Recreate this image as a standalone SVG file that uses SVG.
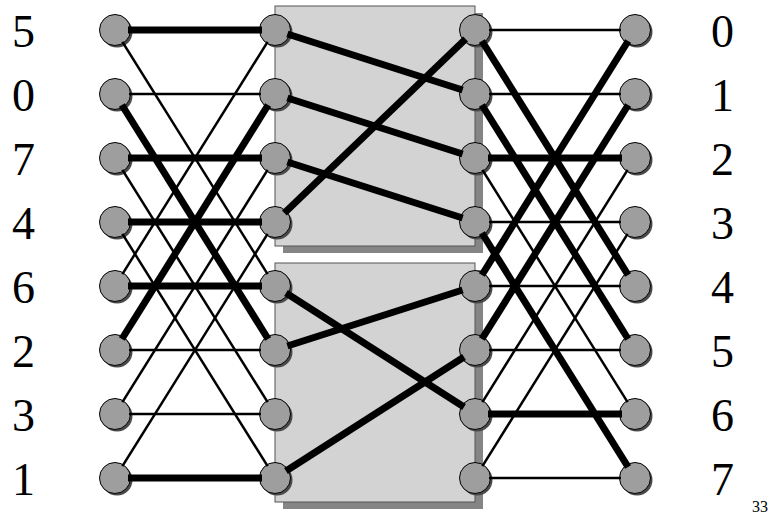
<svg xmlns="http://www.w3.org/2000/svg" width="774" height="523" viewBox="0 0 774 523">
<style>
.box{fill:#d3d3d3;stroke:#555;stroke-width:1}
.bshadow{fill:#858585}
.nd{fill:#9e9e9e;stroke:#000;stroke-width:1}
.ns{fill:#4a4a4a}
.thin{stroke:#000;stroke-width:2.5;fill:none}
.thick{stroke:#000;stroke-width:7;fill:none}
</style>
<defs>
<g id="node"><circle class="ns" cx="2" cy="2" r="15.5"/><circle class="nd" cx="0" cy="0" r="15.5"/></g>
</defs>
<rect width="774" height="523" fill="#fff"/>
<g id="box-upper">
<rect class="bshadow" x="283" y="13" width="200" height="240"/>
<rect class="box" x="275" y="6" width="200" height="240"/>
</g>
<g id="box-lower">
<rect class="bshadow" x="283" y="270" width="200" height="239"/>
<rect class="box" x="275" y="263" width="200" height="239"/>
</g>
<g id="inputs" font-family="'Liberation Serif', 'Times New Roman', serif" font-size="46" fill="#000">
<g id="in0"><use href="#node" x="115" y="30"/><text x="12" y="47">5</text></g>
<g id="in1"><use href="#node" x="115" y="94"/><text x="12" y="111">0</text></g>
<g id="in2"><use href="#node" x="115" y="158"/><text x="12" y="175">7</text></g>
<g id="in3"><use href="#node" x="115" y="222"/><text x="12" y="239">4</text></g>
<g id="in4"><use href="#node" x="115" y="286"/><text x="12" y="303">6</text></g>
<g id="in5"><use href="#node" x="115" y="350"/><text x="12" y="367">2</text></g>
<g id="in6"><use href="#node" x="115" y="414"/><text x="12" y="431">3</text></g>
<g id="in7"><use href="#node" x="115" y="478"/><text x="12" y="495">1</text></g>
</g>
<g id="stage2">
<g id="s2n0"><use href="#node" x="275" y="30"/></g>
<g id="s2n1"><use href="#node" x="275" y="94"/></g>
<g id="s2n2"><use href="#node" x="275" y="158"/></g>
<g id="s2n3"><use href="#node" x="275" y="222"/></g>
<g id="s2n4"><use href="#node" x="275" y="286"/></g>
<g id="s2n5"><use href="#node" x="275" y="350"/></g>
<g id="s2n6"><use href="#node" x="275" y="414"/></g>
<g id="s2n7"><use href="#node" x="275" y="478"/></g>
</g>
<g id="stage3">
<g id="s3n0"><use href="#node" x="475" y="30"/></g>
<g id="s3n1"><use href="#node" x="475" y="94"/></g>
<g id="s3n2"><use href="#node" x="475" y="158"/></g>
<g id="s3n3"><use href="#node" x="475" y="222"/></g>
<g id="s3n4"><use href="#node" x="475" y="286"/></g>
<g id="s3n5"><use href="#node" x="475" y="350"/></g>
<g id="s3n6"><use href="#node" x="475" y="414"/></g>
<g id="s3n7"><use href="#node" x="475" y="478"/></g>
</g>
<g id="outputs" font-family="'Liberation Serif', 'Times New Roman', serif" font-size="46" fill="#000">
<g id="out0"><use href="#node" x="635" y="30"/><text x="711" y="47">0</text></g>
<g id="out1"><use href="#node" x="635" y="94"/><text x="711" y="111">1</text></g>
<g id="out2"><use href="#node" x="635" y="158"/><text x="711" y="175">2</text></g>
<g id="out3"><use href="#node" x="635" y="222"/><text x="711" y="239">3</text></g>
<g id="out4"><use href="#node" x="635" y="286"/><text x="711" y="303">4</text></g>
<g id="out5"><use href="#node" x="635" y="350"/><text x="711" y="367">5</text></g>
<g id="out6"><use href="#node" x="635" y="414"/><text x="711" y="431">6</text></g>
<g id="out7"><use href="#node" x="635" y="478"/><text x="711" y="495">7</text></g>
</g>
<g id="connectors">
<line class="thin" x1="129" y1="94" x2="261" y2="94"/>
<line class="thin" x1="129" y1="350" x2="261" y2="350"/>
<line class="thin" x1="129" y1="414" x2="261" y2="414"/>
<line class="thin" x1="122.4" y1="41.9" x2="267.6" y2="274.1"/>
<line class="thin" x1="122.4" y1="169.9" x2="267.6" y2="402.1"/>
<line class="thin" x1="122.4" y1="233.9" x2="267.6" y2="466.1"/>
<line class="thin" x1="122.4" y1="274.1" x2="267.6" y2="41.9"/>
<line class="thin" x1="122.4" y1="402.1" x2="267.6" y2="169.9"/>
<line class="thin" x1="122.4" y1="466.1" x2="267.6" y2="233.9"/>
<line class="thick" x1="128" y1="30" x2="262" y2="30"/>
<line class="thick" x1="128" y1="158" x2="262" y2="158"/>
<line class="thick" x1="128" y1="222" x2="262" y2="222"/>
<line class="thick" x1="128" y1="286" x2="262" y2="286"/>
<line class="thick" x1="128" y1="478" x2="262" y2="478"/>
<line class="thick" x1="121.9" y1="105" x2="268.1" y2="339"/>
<line class="thick" x1="121.9" y1="339" x2="268.1" y2="105"/>
<line class="thick" x1="287.4" y1="34" x2="462.6" y2="90"/>
<line class="thick" x1="287.4" y1="98" x2="462.6" y2="154"/>
<line class="thick" x1="287.4" y1="162" x2="462.6" y2="218"/>
<line class="thick" x1="284.4" y1="213" x2="465.6" y2="39"/>
<line class="thick" x1="286" y1="293" x2="464" y2="407"/>
<line class="thick" x1="287.4" y1="346" x2="462.6" y2="290"/>
<line class="thick" x1="286" y1="471" x2="464" y2="357"/>
<line class="thin" x1="489" y1="30" x2="621" y2="30"/>
<line class="thin" x1="489" y1="94" x2="621" y2="94"/>
<line class="thin" x1="489" y1="222" x2="621" y2="222"/>
<line class="thin" x1="489" y1="286" x2="621" y2="286"/>
<line class="thin" x1="489" y1="350" x2="621" y2="350"/>
<line class="thin" x1="489" y1="478" x2="621" y2="478"/>
<line class="thin" x1="482.4" y1="169.9" x2="627.6" y2="402.1"/>
<line class="thin" x1="482.4" y1="402.1" x2="627.6" y2="169.9"/>
<line class="thin" x1="482.4" y1="466.1" x2="627.6" y2="233.9"/>
<line class="thick" x1="488" y1="158" x2="622" y2="158"/>
<line class="thick" x1="488" y1="414" x2="622" y2="414"/>
<line class="thick" x1="481.9" y1="41" x2="628.1" y2="275"/>
<line class="thick" x1="481.9" y1="105" x2="628.1" y2="339"/>
<line class="thick" x1="481.9" y1="233" x2="628.1" y2="467"/>
<line class="thick" x1="481.9" y1="275" x2="628.1" y2="41"/>
<line class="thick" x1="481.9" y1="339" x2="628.1" y2="105"/>
</g>
<text x="752" y="512" font-family="'Liberation Serif', 'Times New Roman', serif" font-size="16" fill="#000">33</text>
</svg>
